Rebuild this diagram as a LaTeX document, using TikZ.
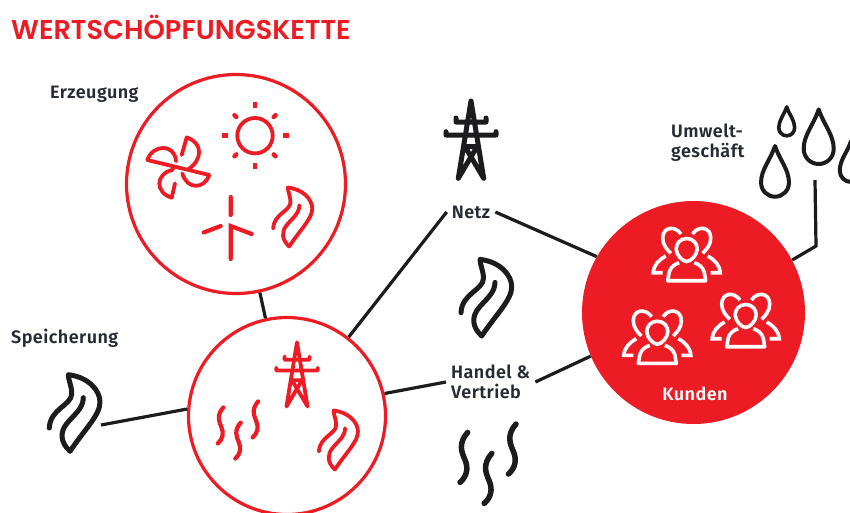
\documentclass[tikz,border=0pt]{standalone}
\usepackage{fontspec}
\setmainfont{Fira Sans}[LetterSpace=2.5, BoldFont={Fira Sans SemiBold}]
\newfontfamily\titlefont{Poppins}[BoldFont={Poppins SemiBold}]
\definecolor{wkred}{HTML}{ED1C24}
\definecolor{wkink}{HTML}{1C1C1E}
\definecolor{wktext}{HTML}{262A33}
\tikzset{
	ring/.style={circle, draw=wkred, line width=3.2pt, fill=white, inner sep=0pt},
	label/.style={font=\fontsize{18}{20}\selectfont\bfseries, text=wktext, inner sep=5pt, align=left},
	link/.style={color=wkink, line width=3.2pt},
	blackicon/.style={color=wkink, line width=5pt},
	redicon/.style={color=wkred, line width=3.8pt},
	flame/.pic={
		\draw[line cap=round, line join=round] (-25.7,15) .. controls (-25,-4.3) and (-3.3,-7.7) .. (-3.3,-19.3)
			.. controls (-3.3,-27.7) and (-6.7,-32.7) .. (-6.7,-38.3)
			.. controls (13.3,-36) and (25,-22.7) .. (25,-11)
			.. controls (25,2.3) and (10,15.7) .. (-5,38.3)
			.. controls (-15,29) and (-15,19) .. (-8.3,10.7)
			.. controls (-1.7,2.3) and (8.3,-4.3) .. (8.3,-15.3);
	},
	steam/.pic={
		\foreach \sx/\sy in {-24.2/-6.3, 0/14.7, 24.2/-14.7}
			\draw[line cap=round, shift={(\sx,\sy)}] (3.8,-25) .. controls (-6,-14) and (-2,-5) .. (1,2)
				.. controls (5,11) and (3,19) .. (-3.8,25);
	},
	tower/.pic={
		\draw[line cap=round, line join=round] (-12.7,38.3) -- (0,-39) -- (12.7,38.3)
			(-15,-22) -- (-15,-18) -- (15,-18) -- (15,-22)
			(-25,-8.3) -- (-25,-5) -- (25,-5) -- (25,-8.3)
			(-6,6.7) -- (6,6.7)
			(-6,6.7) -- (12.7,38.3)
			(6,6.7) -- (-12.7,38.3);
	},
	drop/.pic={
		\draw[line join=round] (0,-27.3) .. controls (5,-12) and (15,-2) .. (15,12)
			.. controls (15,21) and (8,27.3) .. (0,27.3)
			.. controls (-8,27.3) and (-15,21) .. (-15,12)
			.. controls (-15,-2) and (-5,-12) .. cycle;
	},
	people/.pic={
		\draw (0,-16.5) .. controls (7,-16.5) and (10.5,-11) .. (10.5,-6)
			.. controls (10.5,0) and (4,6.5) .. (0,6.5)
			.. controls (-4,6.5) and (-10.5,0) .. (-10.5,-6)
			.. controls (-10.5,-11) and (-7,-16.5) .. cycle;
		\draw[line join=round] (-17.5,17) .. controls (-16,12) and (-12,9) .. (-7.5,7.7)
			(-17.5,17) -- (-19,25.7) -- (19,25.7) -- (17.5,17)
			.. controls (16,12) and (12,9) .. (7.5,7.7);
		\foreach \side in {-1,1}
			\draw[xscale=\side] (-5.7,-21) .. controls (-12,-30) and (-24,-28) .. (-24,-17)
				.. controls (-24,-10) and (-20,-6) .. (-16,-1.7)
				(-21,1) .. controls (-28,5) and (-33,10) .. (-33.5,17.7) -- (-24,17.7);
	},
	sun/.pic={
		\draw (0,0) circle (17.7);
		\foreach \a in {0,90,180,270}
			\draw[line width=4.5pt] ({\a}:27.5) -- ({\a}:33.5);
		\foreach \a in {45,135,225,315}
			\draw[line cap=round, line width=4.5pt] ({\a}:26.5) -- ({\a}:29);
	},
	pinwheel/.pic={
		\draw[line join=round, line cap=round] (-31.7,-7.7) -- (30.3,7.3)
			(-31.7,-7.7) .. controls (-26,-24) and (-4,-24) .. (-3,-6.5)
			(30.3,7.3) .. controls (25,22) and (8,22) .. (3.3,5.7)
			(2.7,-12.7) -- (7.7,-30.3) .. controls (24,-25) and (24,-8) .. (9,1.7)
			(-4,15.7) -- (-7.3,30) .. controls (-24,25) and (-24,6) .. (-6,2);
	},
	turbine/.pic={
		\draw[line cap=round] (0,-29) -- (0,-11)
			(0,33) -- (0,0) -- (21,8)
			(-27,6.5) -- (-10,0);
	}
}

\begin{document}
\begin{tikzpicture}[x=1pt, y=-1pt]
	\useasboundingbox (0,0) rectangle (850,512);
	\clip (0,0) rectangle (850,512);
	\node[anchor=west, inner sep=0pt, text=wkred, font=\titlefont\fontsize{27.2}{30}\selectfont\bfseries] (titel) at (11,27) {WERTSCHÖPFUNGSKETTE};

	\node[ring, minimum size=219pt] (erz) at (236,184) {};
	\node[ring, minimum size=197pt] (speicher) at (287,416) {};
	\node[circle, fill=wkred, inner sep=0pt, minimum size=223pt] (kunden) at (693.5,312.5) {};

	\node[label, anchor=west, inner sep=0pt] (erzlabel) at (50,94) {Erzeugung};
	\node[label, anchor=west, inner sep=0pt] (speicherlabel) at (11,338) {Speicherung};
	\node[label, anchor=west, inner sep=0pt] (umwelt) at (671,143) {Umwelt-\\geschäft};
	\node[label] (netz) at (471,212) {Netz};
	\node[label, anchor=west] (handel) at (446,382) {Handel \&\\Vertrieb};
	\node[label, text=white, inner sep=0pt] (kundenlabel) at (695,394) {Kunden};

	\coordinate (flamme) at (101,425);
	\coordinate (knick) at (816,246);
	\coordinate (tropfen) at (815,180);

	\draw[link] (erz) edge (speicher)
		(speicher.52) edge (netz.west)
		(netz.east) edge (kunden.150)
		(speicher.13) edge (handel.west)
		(handel.east) edge (kunden.203)
		(speicher.176) edge (flamme);
	\draw[link, line join=miter] (kunden.28) -- (knick) -- (tropfen);

	\pic[redicon] at (255,135.7) {sun};
	\pic[redicon] at (179,167.7) {pinwheel};
	\pic[redicon, line width=4.2pt] at (230.7,226) {turbine};
	\pic[redicon, scale=.77] at (293,217) {flame};
	\pic[redicon, scale=.83] at (297,374.7) {tower};
	\pic[redicon, scale=.72, line width=4.2pt] at (238,430) {steam};
	\pic[redicon, scale=.77] at (338.7,440) {flame};

	\pic[blackicon] at (471,140) {tower};
	\pic[blackicon] at (486.7,297.7) {flame};
	\pic[blackicon, line width=5.5pt] at (488,463.7) {steam};
	\pic[blackicon] at (75,413) {flame};
	\pic[blackicon, line width=4pt] at (818.7,136.7) {drop};
	\pic[blackicon, line width=3.6pt, scale=.53] at (786.7,121.3) {drop};
	\pic[blackicon, line width=4pt, scale=.93] at (775,171.3) {drop};
	\pic[blackicon, line width=4pt, scale=.75] at (851,161.5) {drop};

	\pic[color=white, line width=3.6pt] at (686.7,255) {people};
	\pic[color=white, line width=3.6pt] at (657.3,337.7) {people};
	\pic[color=white, line width=3.6pt] at (745.7,321) {people};
\end{tikzpicture}
\end{document}
